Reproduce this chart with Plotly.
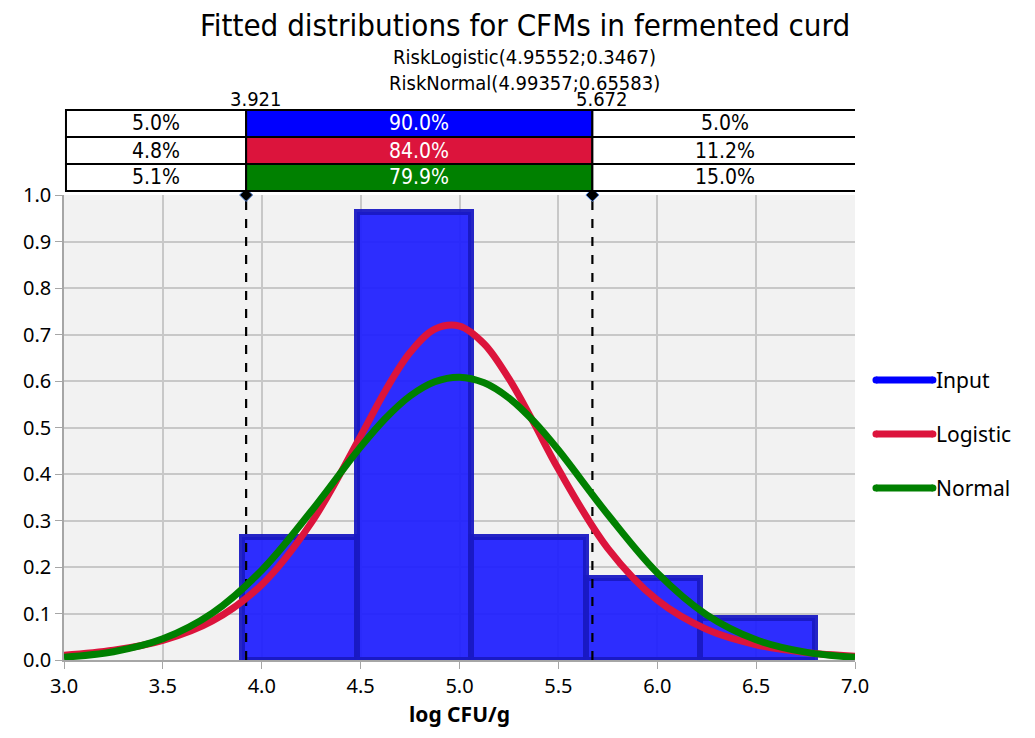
import plotly.graph_objects as go

# ---------------- data ----------------
bin_edges = [3.900, 4.4795, 5.059, 5.6385, 6.218, 6.7975]
bar_heights = [0.265, 0.963, 0.265, 0.176, 0.090]

logistic_x = [3.0, 3.25, 3.5, 3.75, 4.0, 4.25, 4.5, 4.625, 4.75, 4.875, 5.0, 5.125,
              5.25, 5.375, 5.5, 5.75, 6.0, 6.25, 6.5, 6.75, 7.0]
logistic_y = [0.0102, 0.0208, 0.0421, 0.0839, 0.1620, 0.2949, 0.4815, 0.5792, 0.6612,
              0.7115, 0.7181, 0.6797, 0.6049, 0.5104, 0.4105, 0.2401, 0.1288, 0.0658,
              0.0328, 0.0161, 0.0079]

normal_x = [3.0, 3.25, 3.5, 3.75, 4.0, 4.25, 4.5, 4.625, 4.75, 4.875, 5.0, 5.125,
            5.25, 5.375, 5.5, 5.75, 6.0, 6.25, 6.5, 6.75, 7.0]
normal_y = [0.0060, 0.0178, 0.0455, 0.1008, 0.1931, 0.3199, 0.4583, 0.5194, 0.5678,
            0.5984, 0.6083, 0.5962, 0.5635, 0.5136, 0.4515, 0.3128, 0.1874, 0.0971,
            0.0435, 0.0169, 0.0057]

cutoffs = [3.921, 5.672]
cutoff_labels = ["3.921", "5.672"]

table_left = ["5.0%", "4.8%", "5.1%"]
table_mid = ["90.0%", "84.0%", "79.9%"]
table_right = ["5.0%", "11.2%", "15.0%"]

series_names = ["Input", "Logistic", "Normal"]
series_colors = ["#0000FF", "#DC143C", "#008000"]

title_text = "Fitted distributions for CFMs in fermented curd"
subtitles = ["RiskLogistic(4.95552;0.3467)", "RiskNormal(4.99357;0.65583)"]

y_ticks = [0.0, 0.1, 0.2, 0.3, 0.4, 0.5, 0.6, 0.7, 0.8, 0.9, 1.0]
x_ticks = [3.0, 3.5, 4.0, 4.5, 5.0, 5.5, 6.0, 6.5, 7.0]

# ---------------- figure ----------------
NARROW = "Liberation Sans Narrow, DejaVu Sans Condensed, Noto Sans, sans-serif"
BODY = "Noto Sans, Open Sans, sans-serif"

fig = go.Figure()

# dashed cutoff lines with diamond markers at top
for c in cutoffs:
    fig.add_trace(go.Scatter(
        x=[c, c], y=[0, 1], mode="lines",
        line=dict(color="black", width=2.2, dash="dash"),
        showlegend=False, hoverinfo="skip"))
fig.add_trace(go.Scatter(
    x=cutoffs, y=[1, 1], mode="markers",
    marker=dict(symbol="diamond", size=10, color="black",
                line=dict(color="#4A7BD0", width=1)),
    cliponaxis=False, showlegend=False, hoverinfo="skip"))

centers = [(a + b) / 2 for a, b in zip(bin_edges[:-1], bin_edges[1:])]
widths = [b - a for a, b in zip(bin_edges[:-1], bin_edges[1:])]
fig.add_trace(go.Bar(
    x=centers, y=bar_heights, width=widths,
    marker=dict(color="rgba(28,28,255,0.92)",
                line=dict(color="rgba(25,25,195,0.95)", width=6)),
    showlegend=False, name="Input"))

fig.add_trace(go.Scatter(
    x=logistic_x, y=logistic_y, mode="lines", line_shape="spline",
    line=dict(color=series_colors[1], width=7), showlegend=False, name="Logistic"))
fig.add_trace(go.Scatter(
    x=normal_x, y=normal_y, mode="lines", line_shape="spline",
    line=dict(color=series_colors[2], width=7), showlegend=False, name="Normal"))

shapes = []
annotations = []

# table above plot
row_tops = [1.183, 1.1247, 1.0667]
row_h = 0.0581
x_left, x_right = 3.01, 7.015
for i in range(3):
    y1 = row_tops[i]
    y0 = y1 - row_h
    cells = [(x_left, cutoffs[0], "white", table_left[i], "black"),
             (cutoffs[0], cutoffs[1], series_colors[i], table_mid[i], "white"),
             (cutoffs[1], x_right, "white", table_right[i], "black")]
    for (a, b, fill, txt, tcol) in cells:
        shapes.append(dict(type="rect", xref="x", yref="paper", x0=a, x1=b, y0=y0, y1=y1,
                           fillcolor=fill, line=dict(color="black", width=2), layer="above"))
        annotations.append(dict(xref="x", yref="paper", x=(a + b) / 2, y=(y0 + y1) / 2,
                                text=txt, showarrow=False, font=dict(family=NARROW, size=21, color=tcol),
                                xanchor="center", yanchor="middle"))

for c, lab in zip(cutoffs, cutoff_labels):
    annotations.append(dict(xref="x", yref="paper", x=c, y=1.183, text=lab, showarrow=False,
                            xshift=10, yshift=-3, xanchor="center", yanchor="bottom",
                            font=dict(family=NARROW, size=20, color="black")))

# title and subtitles
annotations.append(dict(xref="paper", yref="paper", x=0.5828, y=1.366, text=title_text,
                        showarrow=False, xanchor="center", yanchor="middle",
                        font=dict(family=NARROW, size=31, color="black")))
annotations.append(dict(xref="paper", yref="paper", x=0.5828, y=1.297, text=subtitles[0],
                        showarrow=False, xanchor="center", yanchor="middle",
                        font=dict(family=NARROW, size=20, color="black")))
annotations.append(dict(xref="paper", yref="paper", x=0.5828, y=1.2415, text=subtitles[1],
                        showarrow=False, xanchor="center", yanchor="middle",
                        font=dict(family=NARROW, size=20, color="black")))

# custom legend
leg_y = [0.6022, 0.486, 0.370]
for name, col, ly in zip(series_names, series_colors, leg_y):
    shapes.append(dict(type="line", xref="paper", yref="paper", x0=1.0265, x1=1.0985,
                       y0=ly, y1=ly, line=dict(color=col, width=7)))
    for xe in (1.0265, 1.0985):
        shapes.append(dict(type="circle", xref="paper", yref="paper", xsizemode="pixel",
                           ysizemode="pixel", xanchor=xe, yanchor=ly, x0=-3.5, x1=3.5,
                           y0=-3.5, y1=3.5, fillcolor=col, line=dict(width=0)))
    annotations.append(dict(xref="paper", yref="paper", x=1.100, y=ly, text=name,
                            showarrow=False, xanchor="left", yanchor="middle",
                            font=dict(family=BODY, size=21, color="black")))

fig.update_layout(
    width=1035, height=738,
    margin=dict(l=64, r=180, t=195, b=78),
    paper_bgcolor="white", plot_bgcolor="#F2F2F2",
    shapes=shapes, annotations=annotations,
    bargap=0, showlegend=False,
    font=dict(family=BODY, size=19, color="black"),
    xaxis=dict(range=[3.0, 7.0], tickvals=x_ticks, ticktext=[f"{v:.1f}" for v in x_ticks],
               showgrid=True, gridcolor="#C8C8C8", gridwidth=1.5, zeroline=False,
               showline=True, linecolor="#A6A6A6", linewidth=1.5,
               ticks="outside", ticklen=7, tickcolor="#A6A6A6",
               tickfont=dict(family=BODY, size=20),
               title=dict(text="<b>log CFU/g</b>", font=dict(family=BODY, size=21), standoff=10)),
    yaxis=dict(range=[0, 1.0], tickvals=y_ticks, ticktext=[f"{v:.1f}" for v in y_ticks],
               showgrid=True, gridcolor="#C8C8C8", gridwidth=1.5, zeroline=False,
               showline=True, linecolor="#A6A6A6", linewidth=1.5,
               ticks="outside", ticklen=7, tickcolor="#A6A6A6",
               tickfont=dict(family=BODY, size=20)),
)

fig.write_html("out.html")
